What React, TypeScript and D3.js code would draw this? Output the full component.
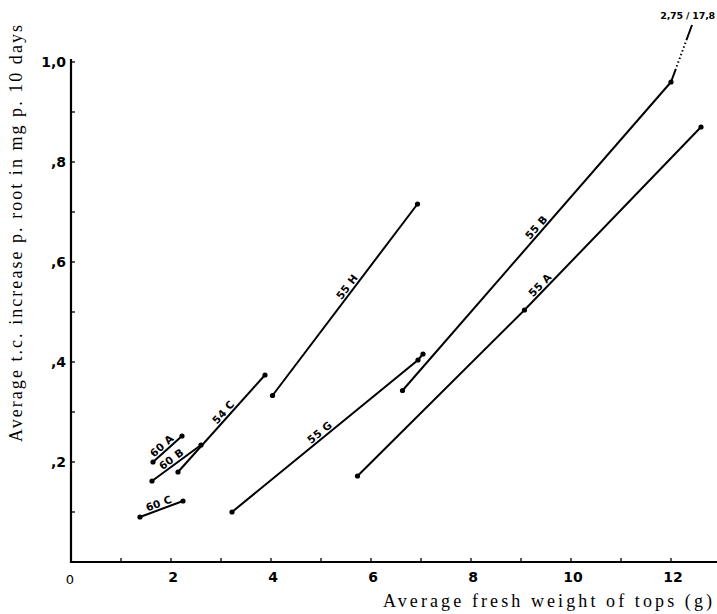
import React from 'react';
import * as d3 from 'd3';

const W = 717;
const H = 614;

// axis ticks
const xTicks = [1, 2, 3, 4, 5, 6, 7, 8, 9, 10, 11, 12];
const xTickLabels = [2, 4, 6, 8, 10, 12];
const yTicks = [0.1, 0.2, 0.3, 0.4, 0.5, 0.6, 0.7, 0.8, 0.9, 1.0];
const yTickValues = [1.0, 0.8, 0.6, 0.4, 0.2];
const yTickLabels = ['1,0', ',8', ',6', ',4', ',2'];

// series: [fresh weight of tops (g), t.c. increase (mg)]
const s60A: [number, number][] = [[1.64, 0.2], [2.22, 0.252]];
const s60B: [number, number][] = [[1.62, 0.162], [2.6, 0.234]];
const s60C: [number, number][] = [[1.38, 0.09], [2.24, 0.122]];
const s54C: [number, number][] = [[2.14, 0.18], [3.88, 0.374]];
const s55H: [number, number][] = [[4.03, 0.333], [6.93, 0.716]];
const s55G: [number, number][] = [[3.22, 0.1], [6.94, 0.404], [7.04, 0.416]];
const s55B: [number, number][] = [[6.63, 0.343], [12.0, 0.96]];
const s55A: [number, number][] = [[5.73, 0.172], [9.07, 0.504], [12.6, 0.87]];
const s55BOff: [number, number][] = [[12.0, 0.96], [12.42, 1.074]];

const seriesNames = ['60 A', '60 B', '60 C', '54 C', '55 H', '55 G', '55 B', '55 A'];
const seriesData = [s60A, s60B, s60C, s54C, s55H, s55G, s55B, s55A];
// x value along each line where its name is written
const labelAt = [1.9, 2.08, 1.8, 3.14, 5.62, 5.05, 9.4, 9.47];
const offScaleLabel = '2,75 / 17,8';

const x = d3.scaleLinear().domain([0, 12.92]).range([71, 717]);
const y = d3.scaleLinear().domain([0, 1]).range([562, 62]);

const line = d3
  .line<[number, number]>()
  .x((d) => x(d[0]))
  .y((d) => y(d[1]));

function labelPos(pts: [number, number][], lx: number) {
  let i = 0;
  while (i < pts.length - 2 && lx > pts[i + 1][0]) i++;
  const a = pts[i];
  const b = pts[i + 1];
  const t = (lx - a[0]) / (b[0] - a[0]);
  const px = x(a[0] + t * (b[0] - a[0]));
  const py = y(a[1] + t * (b[1] - a[1]));
  const ang = (Math.atan2(y(b[1]) - y(a[1]), x(b[0]) - x(a[0])) * 180) / Math.PI;
  return { px, py, ang };
}

const tickFont = '"DejaVu Sans", sans-serif';
const titleFont = '"Liberation Serif", "Times New Roman", serif';

export default function App() {
  const ext1 = s55BOff[1];
  return (
    <svg
      width={W}
      height={H}
      style={{ position: 'absolute', left: 0, top: 0, background: '#fff' }}
    >
      {/* axes */}
      <line x1={x(0)} x2={x(0)} y1={y(0) + 1} y2={y(1) - 3} stroke="#000" strokeWidth={2.2} />
      <line x1={x(0) - 1} x2={W} y1={y(0)} y2={y(0)} stroke="#000" strokeWidth={2.2} />

      {xTicks.map((t) => (
        <line key={'xt' + t} x1={x(t)} x2={x(t)} y1={y(0)} y2={y(0) - 4} stroke="#000" strokeWidth={1.3} />
      ))}
      {yTicks.map((t) => (
        <line key={'yt' + t} x1={x(0)} x2={x(0) + 4} y1={y(t)} y2={y(t)} stroke="#000" strokeWidth={1.3} />
      ))}

      {xTickLabels.map((t) => (
        <text
          key={'xl' + t}
          x={x(t) + 2}
          y={582}
          textAnchor="middle"
          fontFamily={tickFont}
          fontWeight="bold"
          fontSize={14}
        >
          {t}
        </text>
      ))}
      <text x={x(0) - 1} y={584} textAnchor="middle" fontFamily={tickFont} fontSize={13}>
        0
      </text>

      {yTickValues.map((t, i) => (
        <text
          key={'yl' + t}
          x={66}
          y={y(t) + 5}
          textAnchor="end"
          fontFamily={tickFont}
          fontWeight="bold"
          fontSize={14}
        >
          {yTickLabels[i]}
        </text>
      ))}

      {/* axis titles */}
      <text
        x={383}
        y={607}
        fontFamily={titleFont}
        fontSize={18}
        textLength={329}
        lengthAdjust="spacing"
      >
        Average fresh weight of tops (g)
      </text>
      <text
        transform={`translate(22,442) rotate(-90)`}
        fontFamily={titleFont}
        fontSize={18}
        textLength={417}
        lengthAdjust="spacing"
      >
        Average t.c. increase p. root in mg p. 10 days
      </text>

      {/* series lines */}
      {seriesData.map((pts, i) => (
        <g key={seriesNames[i]}>
          <path d={line(pts) || ''} fill="none" stroke="#000" strokeWidth={2} />
          {pts.map((p, j) => (
            <circle key={j} cx={x(p[0])} cy={y(p[1])} r={2.6} fill="#000" />
          ))}
        </g>
      ))}

      {/* off-scale continuation of 55 B */}
      <path
        d={line(s55BOff) || ''}
        fill="none"
        stroke="#000"
        strokeWidth={2}
        strokeDasharray="14,2.5,1.5,2.5,1.5,2.5,1.5,2.5,1.5,2.5,1.5,2.5,1.5,2.5,1.5,2.5,30"
      />
      <text
        x={715}
        y={y(ext1[1]) - 6}
        textAnchor="end"
        fontFamily={tickFont}
        fontWeight="bold"
        fontSize={9.5}
        letterSpacing={-0.2}
      >
        {offScaleLabel}
      </text>

      {/* line names */}
      {seriesData.map((pts, i) => {
        const { px, py, ang } = labelPos(pts, labelAt[i]);
        return (
          <text
            key={'lab' + i}
            transform={`translate(${px},${py}) rotate(${ang})`}
            y={-2.5}
            textAnchor="middle"
            fontFamily={tickFont}
            fontWeight="bold"
            fontSize={10.5}
            letterSpacing={0.3}
          >
            {seriesNames[i]}
          </text>
        );
      })}
    </svg>
  );
}
